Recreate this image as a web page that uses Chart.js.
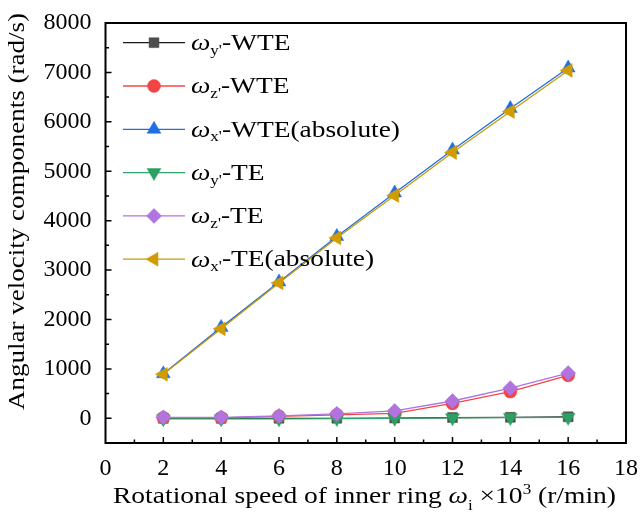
<!DOCTYPE html>
<html>
<head>
<meta charset="utf-8">
<title>Angular velocity components</title>
<script src="https://cdn.jsdelivr.net/npm/chart.js@4/dist/chart.umd.min.js"></script>
<style>
  html, body { margin: 0; padding: 0; background: #fff; }
  #wrap { width: 640px; height: 512px; }
</style>
</head>
<body>
<div id="wrap"><canvas id="chart"></canvas></div>
<script>
'use strict';

// ── data (speed in 10^3 r/min, components in rad/s) ──
const speeds   = [2, 4, 6, 8, 10, 12, 14, 16];
const wyWTE    = [0, 0, 0, 0, 5, 15, 20, 30];
const wzWTE    = [10, 10, 40, 70, 100, 300, 540, 870];
const wxWTE    = [900, 1840, 2760, 3680, 4560, 5430, 6270, 7090];
const wyTE     = [-10, -10, -10, -5, 0, 10, 15, 20];
const wzTE     = [20, 20, 50, 90, 150, 350, 610, 915];
const wxTE     = [890, 1810, 2740, 3650, 4510, 5380, 6210, 7040];

const xTicks   = [0, 2, 4, 6, 8, 10, 12, 14, 16, 18];
const yTicks   = [0, 1000, 2000, 3000, 4000, 5000, 6000, 7000, 8000];

const SERIF = '"Liberation Serif", "DejaVu Serif", serif';

// one entry per curve: subscript + suffix make up the legend label
const seriesMeta = [
  { sub: "y'", suffix: '-WTE',            data: wyWTE, line: '#1a1a1a', fill: '#4d4d4d', style: 'rect',     rot: 0,   r: 7 },
  { sub: "z'", suffix: '-WTE',            data: wzWTE, line: '#f04848', fill: '#f24444', style: 'circle',   rot: 0,   r: 6.5 },
  { sub: "x'", suffix: '-WTE(absolute)',  data: wxWTE, line: '#1f6fe3', fill: '#1f6fe3', style: 'triangle', rot: 0,   r: 8 },
  { sub: "y'", suffix: '-TE',             data: wyTE,  line: '#2fa567', fill: '#2e9f62', style: 'triangle', rot: 180, r: 8 },
  { sub: "z'", suffix: '-TE',             data: wzTE,  line: '#b173e0', fill: '#b173e0', style: 'rectRot',  rot: 0,   r: 7.5 },
  { sub: "x'", suffix: '-TE(absolute)',   data: wxTE,  line: '#c99a0a', fill: '#d09c00', style: 'triangle', rot: -90, r: 8 },
];

// later curves sit on top of earlier ones
const datasets = seriesMeta.map((s, i) => ({
  label: s.sub + s.suffix,
  data: s.data.map((v, k) => ({ x: speeds[k], y: v })),
  order: seriesMeta.length - i,
  borderColor: s.line,
  backgroundColor: s.fill,
  borderWidth: 1.3,
  pointStyle: s.style,
  pointRotation: s.rot,
  pointRadius: s.r,
  pointBorderWidth: 0.5,
  pointBorderColor: s.fill,
  pointBackgroundColor: s.fill,
}));

// ── rich text: [{t, italic, sub, sup}] ──
function setFont(ctx, p, size) {
  const sz = (p.sub || p.sup) ? size * 0.62 : size;
  ctx.font = `${p.italic ? 'italic ' : ''}${sz}px ${SERIF}`;
}

function richWidth(ctx, parts, size) {
  let w = 0;
  parts.forEach(p => { setFont(ctx, p, size); w += ctx.measureText(p.t).width; });
  return w;
}

// draws parts starting at (x, y), stretched horizontally by sx
function drawRich(ctx, parts, x, y, size, sx = 1) {
  ctx.save();
  ctx.translate(x, y);
  ctx.scale(sx, 1);
  let cx = 0;
  parts.forEach(p => {
    setFont(ctx, p, size);
    let dy = 0;
    if (p.sub) dy = size * 0.3;
    if (p.sup) dy = -size * 0.38;
    ctx.fillText(p.t, cx, dy);
    cx += ctx.measureText(p.t).width;
  });
  ctx.restore();
}

const legendParts = s => [
  { t: '\u03C9', italic: true },
  { t: s.sub, sub: true },
  { t: s.suffix },
];

const xTitleParts = [
  { t: 'Rotational speed of inner ring ' },
  { t: '\u03C9', italic: true },
  { t: 'i', sub: true },
  { t: ' \u00D710' },
  { t: '3', sup: true },
  { t: ' (r/min)' },
];

const yTitleParts = [{ t: 'Angular velocity components (rad/s)' }];

// ── frame, inward ticks, legend and axis titles ──
const framePlugin = {
  id: 'frame',
  afterDraw(chart) {
    const { ctx, chartArea: a, scales } = chart;
    const xs = scales.x, ys = scales.y;
    ctx.save();

    // box
    ctx.strokeStyle = '#000';
    ctx.lineWidth = 2;
    ctx.strokeRect(a.left, a.top, a.right - a.left, a.bottom - a.top);

    // inward ticks, left and bottom only
    ctx.lineWidth = 1.5;
    ctx.beginPath();
    for (let v = -500; v <= 8000; v += 500) {
      const py = ys.getPixelForValue(v);
      const len = v % 1000 === 0 ? 6 : 3.5;
      if (py <= a.top + 1 || py >= a.bottom - 1) continue;
      ctx.moveTo(a.left, py);
      ctx.lineTo(a.left + len, py);
    }
    for (let v = 1; v < 18; v += 1) {
      const px = xs.getPixelForValue(v);
      const len = v % 2 === 0 ? 6 : 3.5;
      ctx.moveTo(px, a.bottom);
      ctx.lineTo(px, a.bottom - len);
    }
    ctx.stroke();

    // legend, box in the upper left of the plot
    const rowY0 = 42.7, rowStep = 43.3, fs = 24;
    const legStretch = 209 / richWidth(ctx, legendParts(seriesMeta[2]), fs);
    seriesMeta.forEach((s, i) => {
      const y = rowY0 + i * rowStep;
      ctx.strokeStyle = s.line;
      ctx.lineWidth = 1.3;
      ctx.beginPath();
      ctx.moveTo(123, y);
      ctx.lineTo(185, y);
      ctx.stroke();
      ctx.fillStyle = s.fill;
      ctx.strokeStyle = s.fill;
      ctx.lineWidth = 0.5;
      Chart.helpers.drawPoint(ctx, { pointStyle: s.style, rotation: s.rot, radius: s.r, borderWidth: 0.5 }, 154, y);
      ctx.fillStyle = '#000';
      ctx.textBaseline = 'middle';
      ctx.textAlign = 'left';
      drawRich(ctx, legendParts(s), 191, y + 1, fs, legStretch);
    });

    // x title
    ctx.fillStyle = '#000';
    ctx.textBaseline = 'alphabetic';
    ctx.textAlign = 'left';
    const xw = richWidth(ctx, xTitleParts, fs);
    drawRich(ctx, xTitleParts, 113, 503, fs, 503 / xw);

    // y title, rotated
    const yw = richWidth(ctx, yTitleParts, fs);
    ctx.translate(18, 212);
    ctx.rotate(-Math.PI / 2);
    ctx.textBaseline = 'middle';
    drawRich(ctx, yTitleParts, -198, 0, fs, 397 / yw);
    ctx.restore();
  }
};

new Chart(document.getElementById('chart'), {
  type: 'line',
  data: { datasets },
  plugins: [framePlugin],
  options: {
    responsive: true,
    maintainAspectRatio: false,
    animation: false,
    layout: { padding: { top: 23, right: 14, left: 0, bottom: 0 } },
    plugins: {
      legend: { display: false },
      tooltip: { enabled: false },
    },
    scales: {
      x: {
        type: 'linear',
        min: 0,
        max: 18,
        afterBuildTicks: s => { s.ticks = xTicks.map(v => ({ value: v })); },
        // fixed strip height; end labels may overhang the plot edges
        afterFit: s => { s.height = 69; s.paddingLeft = 0; s.paddingRight = 0; },
        grid: { display: false, drawTicks: false },
        border: { display: false },
        ticks: { color: '#000', padding: 11, maxRotation: 0, callback: v => String(v), font: { family: SERIF, size: 24 } },
      },
      y: {
        min: -500,
        max: 8000,
        afterBuildTicks: s => { s.ticks = yTicks.map(v => ({ value: v })); },
        afterFit: s => { s.width = 105.5; s.paddingTop = 0; s.paddingBottom = 0; },
        grid: { display: false, drawTicks: false },
        border: { display: false },
        ticks: { color: '#000', padding: 14, callback: v => String(v), font: { family: SERIF, size: 24 } },
      },
    },
  },
});
</script>
</body>
</html>
